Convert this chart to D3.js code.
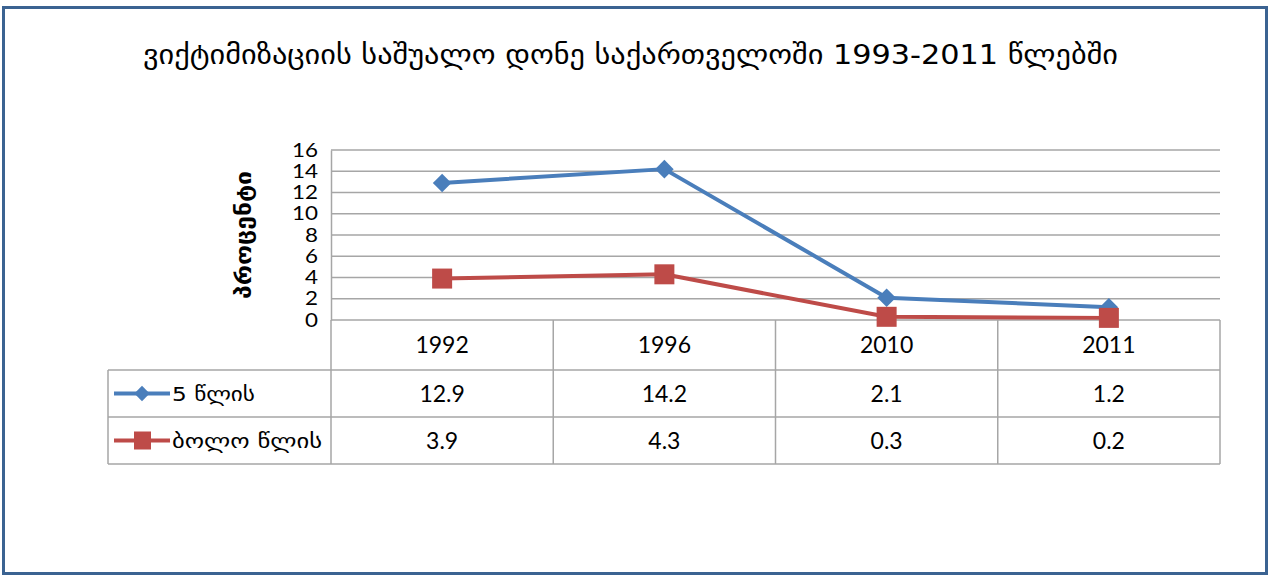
<!DOCTYPE html>
<html>
<head>
<meta charset="utf-8">
<script src="https://cdn.jsdelivr.net/npm/d3@7"></script>
<style>
  body { margin: 0; background: #fff; }
  svg text { fill: #000; }
</style>
</head>
<body>
<div id="chart"></div>
<script>
var years = ["1992", "1996", "2010", "2011"];
var fiveYears = [12.9, 14.2, 2.1, 1.2];
var lastYear = [3.9, 4.3, 0.3, 0.2];
var seriesNames = ["5 წლის", "ბოლო წლის"];
var yTicks = [0, 2, 4, 6, 8, 10, 12, 14, 16];
var title = "ვიქტიმიზაციის საშუალო დონე  საქართველოში 1993-2011 წლებში";
var yLabel = "პროცენტი";

var width = 1271, height = 578;
var geoFont = "'DejaVu Sans', sans-serif";
var numFont = "Lato, 'Open Sans', sans-serif";
var gridColor = "#a6a6a6";
var colors = ["#4a7ebb", "#be4b48"];

var svg = d3.select("#chart").append("svg")
  .attr("width", width)
  .attr("height", height);

// outer frame
svg.append("rect")
  .attr("x", 3.5).attr("y", 7.5)
  .attr("width", 1263).attr("height", 566)
  .attr("fill", "#fff")
  .attr("stroke", "#3b6392")
  .attr("stroke-width", 3);

// title is a bit wide in the original, stretch it
svg.append("text")
  .attr("x", 143).attr("y", 64)
  .attr("textLength", 975)
  .attr("lengthAdjust", "spacingAndGlyphs")
  .style("font-family", geoFont)
  .style("font-size", "27px")
  .text(title);

var plotLeft = 331, plotRight = 1220, plotTop = 150, plotBottom = 320;
var rowH = [50, 47, 47];

var xScale = d3.scaleBand().domain(years).range([plotLeft, plotRight]);
var yScale = d3.scaleLinear().domain([0, 16]).range([plotBottom, plotTop]);

// gridlines
svg.append("g").selectAll("line")
  .data(yTicks.filter(function(d) { return d > 0; }))
  .enter().append("line")
  .attr("x1", plotLeft).attr("x2", plotRight)
  .attr("y1", function(d) { return yScale(d); })
  .attr("y2", function(d) { return yScale(d); })
  .attr("stroke", gridColor).attr("stroke-width", 1.5);

// y axis
var yAxis = svg.append("g")
  .attr("transform", "translate(" + plotLeft + ",0)")
  .call(d3.axisLeft(yScale).tickValues(yTicks).tickSize(0).tickPadding(13));
yAxis.select(".domain").attr("stroke", gridColor).attr("stroke-width", 1.5);
yAxis.selectAll("text")
  .style("font-family", numFont)
  .style("font-size", "19px")
  .attr("fill", "#000");
yAxis.selectAll("text").each(function(d) {
  // widen a bit like the original tick labels
  d3.select(this).attr("textLength", String(d).length * 13).attr("lengthAdjust", "spacingAndGlyphs");
});

svg.append("text")
  .attr("transform", "translate(251," + ((plotTop + plotBottom) / 2) + ") rotate(-90)")
  .attr("text-anchor", "middle")
  .attr("textLength", 128)
  .attr("lengthAdjust", "spacingAndGlyphs")
  .style("font-family", geoFont)
  .style("font-size", "21px")
  .style("font-weight", "bold")
  .text(yLabel);

// data table
var tableLeft = 108;
var r0 = plotBottom, r1 = r0 + rowH[0], r2 = r1 + rowH[1], r3 = r2 + rowH[2];
var tbl = svg.append("g").attr("stroke", gridColor).attr("stroke-width", 1.5);
tbl.append("line").attr("x1", plotLeft).attr("x2", plotRight).attr("y1", r0).attr("y2", r0);
[r1, r2, r3].forEach(function(y) {
  tbl.append("line").attr("x1", tableLeft).attr("x2", plotRight).attr("y1", y).attr("y2", y);
});
tbl.append("line").attr("x1", tableLeft).attr("x2", tableLeft).attr("y1", r1).attr("y2", r3);
xScale.domain().forEach(function(d) {
  tbl.append("line").attr("x1", xScale(d)).attr("x2", xScale(d)).attr("y1", r0).attr("y2", r3);
});
tbl.append("line").attr("x1", plotRight).attr("x2", plotRight).attr("y1", r0).attr("y2", r3);

svg.append("g").selectAll("text")
  .data(years).enter().append("text")
  .attr("x", function(d) { return xScale(d) + xScale.bandwidth() / 2; })
  .attr("y", (r0 + r1) / 2 + 8)
  .attr("text-anchor", "middle")
  .style("font-family", numFont).style("font-size", "23px")
  .text(function(d) { return d; });

var allSeries = [fiveYears, lastYear];
var rowMid = [(r1 + r2) / 2, (r2 + r3) / 2];

allSeries.forEach(function(vals, s) {
  svg.append("g").selectAll("text")
    .data(vals).enter().append("text")
    .attr("x", function(d, i) { return xScale(years[i]) + xScale.bandwidth() / 2; })
    .attr("y", rowMid[s] + 8)
    .attr("text-anchor", "middle")
    .style("font-family", numFont).style("font-size", "23px")
    .text(function(d) { return d3.format(".1f")(d); });

  // legend key
  var lg = svg.append("g");
  lg.append("line")
    .attr("x1", 114).attr("x2", 170)
    .attr("y1", rowMid[s]).attr("y2", rowMid[s])
    .attr("stroke", colors[s]).attr("stroke-width", 4);
  if (s === 0) {
    lg.append("path")
      .attr("d", d3.symbol(d3.symbolDiamond2, 150)())
      .attr("transform", "translate(142," + rowMid[s] + ")")
      .attr("fill", colors[s]);
  } else {
    lg.append("rect")
      .attr("x", 134).attr("y", rowMid[s] - 9)
      .attr("width", 17).attr("height", 18)
      .attr("fill", colors[s]);
  }
  lg.append("text")
    .attr("x", 172).attr("y", rowMid[s] + 7)
    .attr("textLength", s === 0 ? 83 : 150)
    .attr("lengthAdjust", "spacingAndGlyphs")
    .style("font-family", geoFont).style("font-size", "20px")
    .text(seriesNames[s]);
});

// lines
var line = d3.line()
  .x(function(d, i) { return xScale(years[i]) + xScale.bandwidth() / 2; })
  .y(function(d) { return yScale(d); });

allSeries.forEach(function(vals, s) {
  svg.append("path")
    .datum(vals)
    .attr("d", line)
    .attr("fill", "none")
    .attr("stroke", colors[s])
    .attr("stroke-width", 4)
    .attr("stroke-linejoin", "round");
  var g = svg.append("g");
  vals.forEach(function(v, i) {
    var cx = xScale(years[i]) + xScale.bandwidth() / 2, cy = yScale(v);
    if (s === 0) {
      g.append("path")
        .attr("d", d3.symbol(d3.symbolDiamond2, 220)())
        .attr("transform", "translate(" + cx + "," + cy + ")")
        .attr("fill", colors[s]);
    } else {
      g.append("rect")
        .attr("x", cx - 10).attr("y", cy - 10)
        .attr("width", 20).attr("height", 20)
        .attr("fill", colors[s]);
    }
  });
});
</script>
</body>
</html>
